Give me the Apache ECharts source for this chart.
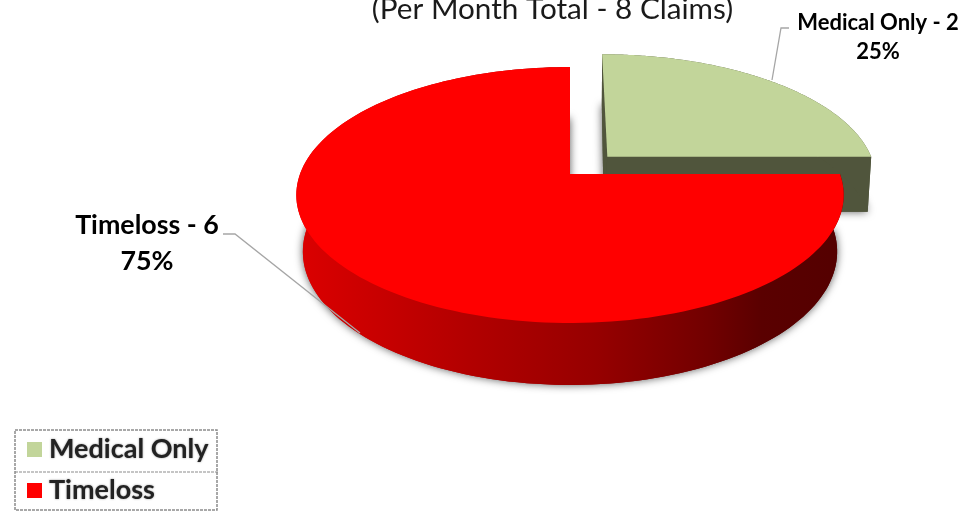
<!DOCTYPE html>
<html>
<head>
<meta charset="utf-8">
<style>html,body{margin:0;padding:0;background:#fff}#c{width:968px;height:511px}</style>
<script src="https://cdn.jsdelivr.net/npm/echarts@6/dist/echarts.min.js"></script>
</head>
<body>
<div id="c"></div>
<script>
// ---- data ----
const titleText = '(Per Month Total - 8 Claims)';
const categories = ['Medical Only', 'Timeloss'];
const values = [2, 6];
const colors = ['#c2d59a', '#ff0000'];

// ---- look of each slice ----
const explode = [0.2, 0];
const baseShift = [-3.5, 0];
const baseShrink = [1, 0.976];
const labelStyle = [
  {x: 878, y: 37, size: 22, lh: 29},
  {x: 147, y: 243, size: 26.8, lh: 36}
];
const leaders = [
  [[789, 28], [781, 28], [772, 80]],
  [[223, 234], [235, 234], [360, 333]]
];
const total = values.reduce((a, b) => a + b, 0);
const chart = echarts.init(document.getElementById('c'));

// perspective projection of the unit pie plane on to the page
function project(X, Y) {
  const w = 1 - 0.164 * Y;
  return [570 + 270 * X / w, (174 + 96 * Y) / w];
}
function toBase(p, i) {
  const depth = 55 + (p[1] - 157) * 0.042;
  const k = Math.min(1, Math.max(0.1, (p[1] - 54) / 103));
  return [570 + (p[0] - 570) * baseShrink[i] + baseShift[i] * k, p[1] + depth];
}
function wallFill(i) {
  if (i === 0) return '#50553c';
  return new echarts.graphic.LinearGradient(0, 0, 1, 0, [
    {offset: 0, color: '#dc0000'},
    {offset: 0.3, color: '#b40000'},
    {offset: 0.55, color: '#960000'},
    {offset: 0.75, color: '#720000'},
    {offset: 0.85, color: '#5a0000'},
    {offset: 1, color: '#540000'}
  ]);
}
function renderSlice(params, api) {
  const i = params.seriesIndex;
  const value = api.value(0);
  let before = 0;
  for (let k = 0; k < i; k++) before += values[k];
  const a0 = before / total * 2 * Math.PI;
  const a1 = (before + value) / total * 2 * Math.PI;
  const mid = (a0 + a1) / 2;
  const ox = explode[i] * Math.sin(mid), oy = -explode[i] * Math.cos(mid);
  const pt = t => project(ox + Math.sin(t), oy - Math.cos(t));
  const apex = project(ox, oy);
  const arc = [];
  const steps = 160;
  for (let s = 0; s <= steps; s++) arc.push(pt(a0 + (a1 - a0) * s / steps));
  const arcBase = arc.map(p => toBase(p, i));
  const apexBase = toBase(apex, i);
  const fill = wallFill(i);
  const poly = (points, style) => ({type: 'polygon', shape: {points}, style});
  const pct = Math.round(value / total * 100) + '%';
  const ls = labelStyle[i];
  return {
    type: 'group',
    children: [
      poly([apexBase].concat(arcBase), {fill, shadowBlur: 8, shadowColor: 'rgba(0,0,0,0.65)'}),
      poly([apex, arc[0], arcBase[0], apexBase], {fill}),
      poly([apex, arc[steps], arcBase[steps], apexBase], {fill}),
      poly(arc.concat(arcBase.slice().reverse()), {fill}),
      {type: 'polyline', shape: {points: leaders[i]}, style: {stroke: '#a6a6a6', lineWidth: 1.3, fill: null}},
      poly([apex].concat(arc), {fill: colors[i]}),
      {type: 'text', style: {
        text: categories[i] + ' - ' + value + '\n' + pct,
        x: ls.x, y: ls.y, align: 'center', verticalAlign: 'middle',
        font: 'bold ' + ls.size + 'px Lato', lineHeight: ls.lh, fill: '#000'
      }}
    ]
  };
}

chart.setOption({
  animation: false,
  backgroundColor: '#fff',
  title: {
    text: titleText, left: 547.5, top: -11, textAlign: 'center',
    textStyle: {fontFamily: 'Lato', fontWeight: 'normal', fontSize: 29.7, color: '#1a1a1a'}
  },
  legend: {
    orient: 'vertical', left: 27, top: 436, padding: 0,
    itemWidth: 15, itemHeight: 15, itemGap: 14, icon: 'rect',
    data: categories,
    textStyle: {
      fontFamily: 'Lato', fontWeight: 'bold', fontSize: 27, color: '#222',
      padding: [0, 0, 0, 2], textShadowColor: 'rgba(0,0,0,0.45)', textShadowBlur: 2
    }
  },
  graphic: [
    {type: 'rect', shape: {x: 15, y: 430, width: 202, height: 80},
     style: {fill: null, stroke: '#8c8c8c', lineWidth: 1.5, lineDash: [3, 1]}, silent: true},
    {type: 'line', shape: {x1: 15, y1: 472, x2: 219, y2: 472},
     style: {stroke: '#8c8c8c', lineWidth: 1.2, lineDash: [3, 1]}, silent: true}
  ],
  series: categories.map((name, i) => ({
    type: 'custom', name, coordinateSystem: 'none',
    itemStyle: {color: colors[i]},
    renderItem: renderSlice,
    data: [[values[i]]]
  }))
});
</script>
</body>
</html>
